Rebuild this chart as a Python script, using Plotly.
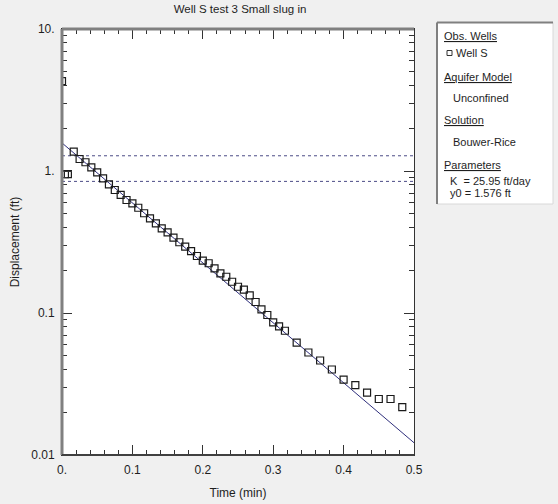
import plotly.graph_objects as go

# ---------------- data ----------------
time_s = [0, 0.25, 0.5, 1.0, 1.5, 2.0, 2.5, 3.0, 3.5, 4.0, 4.5, 5.0, 5.5, 6.0, 6.5,
          7.0, 7.5, 8.0, 8.5, 9.0, 9.5, 10.0, 10.5, 11.0, 11.5, 12.0, 12.5, 13.0,
          13.5, 14.0, 14.5, 15.0, 15.5, 16.0, 16.5, 17.0, 17.5, 18.0, 18.5, 19.0,
          20, 21, 22, 23, 24, 25, 26, 27, 28, 29]
displacement = [4.30, 0.95, 0.95, 1.367, 1.215, 1.152, 1.062, 0.979, 0.888, 0.806,
                0.735, 0.678, 0.625, 0.592, 0.551, 0.504, 0.464, 0.428, 0.395, 0.370,
                0.339, 0.315, 0.293, 0.273, 0.252, 0.234, 0.224, 0.206, 0.190, 0.180,
                0.166, 0.153, 0.146, 0.133, 0.1195, 0.106, 0.0968, 0.0860, 0.0804,
                0.0750, 0.0618, 0.0527, 0.0463, 0.0400, 0.0340, 0.0311, 0.0275,
                0.0248, 0.0248, 0.0217]
time_min = [t / 60.0 for t in time_s]

fit_t = [0.0, 0.5]
fit_y = [1.576, 0.0122]

ref_levels = [1.28, 0.845]

x_range = [0.0, 0.5]
x_tickvals = [0.0, 0.1, 0.2, 0.3, 0.4, 0.5]
x_ticktext = ["0.", "0.1", "0.2", "0.3", "0.4", "0.5"]
y_tickvals = [0.01, 0.1, 1, 10]
y_ticktext = ["0.01", "0.1", "1.", "10."]

legend_lines = [
    ("<u>Obs. Wells</u>", 441.5, 36.5),
    ("Well S", 454.0, 53.0),
    ("<u>Aquifer Model</u>", 441.5, 77.0),
    ("Unconfined", 450.5, 98.0),
    ("<u>Solution</u>", 441.5, 120.0),
    ("Bouwer-Rice", 450.5, 142.0),
    ("<u>Parameters</u>", 441.5, 165.0),
    ("K  = 25.95 ft/day", 448.0, 181.0),
    ("y0 = 1.576 ft", 448.0, 193.0),
]

# ---------------- layout geometry ----------------
W, H = 558, 504
L, R, T, B = 62, 414, 29, 455
PW, PH = R - L, B - T


def px(x):
    return (x - L) / PW


def py(y):
    return (B - y) / PH


FONT = "Liberation Sans, Arial, sans-serif"
INK = "#1e1e1e"

fig = go.Figure()

for lv in ref_levels:
    fig.add_trace(go.Scatter(x=x_range, y=[lv, lv], mode="lines",
                             line=dict(color="#4b4b86", width=1, dash="dot"),
                             hoverinfo="skip", showlegend=False))

fig.add_trace(go.Scatter(x=fit_t, y=fit_y, mode="lines",
                         line=dict(color="#2f2f7c", width=1),
                         hoverinfo="skip", showlegend=False))

fig.add_trace(go.Scatter(x=time_min, y=displacement, mode="markers",
                         marker=dict(symbol="square-open", size=7, color="#1a1a1a",
                                     line=dict(width=1.2, color="#1a1a1a")),
                         showlegend=False))

axis_common = dict(ticks="inside", ticklen=10, tickwidth=1, tickcolor="#333",
                   showline=True, linecolor="#333", linewidth=1, mirror="ticks",
                   showgrid=False, zeroline=False, ticklabelstandoff=4,
                   automargin=False,
                   tickfont=dict(family=FONT, size=12, color=INK))

fig.update_layout(
    width=W, height=H,
    margin=dict(l=L, r=W - R, t=T, b=H - B, pad=0),
    paper_bgcolor="#f0f0f0", plot_bgcolor="white",
    font=dict(family=FONT, size=11, color=INK),
    showlegend=False,
    title=dict(text="Well S test 3 Small slug in", x=px(240), xref="paper",
               xanchor="center", y=1 - 8.5 / H, yref="container", yanchor="middle",
               font=dict(family=FONT, size=11.5, color=INK)),
    xaxis=dict(range=x_range, tickvals=x_tickvals, ticktext=x_ticktext,
               minor=dict(ticks="inside", ticklen=5, dtick=0.02, tickcolor="#333"),
               title=dict(text="Time (min)", standoff=12,
                          font=dict(family=FONT, size=12, color=INK)),
               **axis_common),
    yaxis=dict(type="log", range=[-2, 1], tickvals=y_tickvals, ticktext=y_ticktext,
               minor=dict(ticks="inside", ticklen=5, dtick="D1", tickcolor="#333"),
               title=dict(text="Displacement (ft)", standoff=9,
                          font=dict(family=FONT, size=12, color=INK)),
               **axis_common),
)

shapes = [
    # sunken frame: thick grey left & top edges
    dict(type="line", xref="paper", yref="paper", x0=0, x1=0, y0=0, y1=1,
         line=dict(color="#808080", width=3)),
    dict(type="line", xref="paper", yref="paper", x0=0, x1=1, y0=1, y1=1,
         line=dict(color="#808080", width=3)),
    dict(type="line", xref="paper", yref="paper", x0=0, x1=1, y0=0, y1=0,
         line=dict(color="#404040", width=2)),
    # legend panel
    dict(type="rect", xref="paper", yref="paper", x0=px(437), x1=px(553),
         y0=py(204), y1=py(22.5), fillcolor="white", line=dict(color="#d8d8d8", width=1),
         layer="below"),
    dict(type="line", xref="paper", yref="paper", x0=px(437), x1=px(437),
         y0=py(204), y1=py(22.5), line=dict(color="#808080", width=2)),
    dict(type="line", xref="paper", yref="paper", x0=px(437), x1=px(553),
         y0=py(22.5), y1=py(22.5), line=dict(color="#808080", width=2)),
    # legend marker square
    dict(type="rect", xref="paper", yref="paper", x0=px(447), x1=px(452),
         y0=py(55.5), y1=py(50.5), line=dict(color="#333", width=1)),
]
fig.update_layout(shapes=shapes)

for text, x, y in legend_lines:
    fig.add_annotation(text=text, xref="paper", yref="paper", x=px(x), y=py(y),
                       xanchor="left", yanchor="middle", showarrow=False,
                       font=dict(family=FONT, size=11, color=INK))

fig.write_html("out.html")
